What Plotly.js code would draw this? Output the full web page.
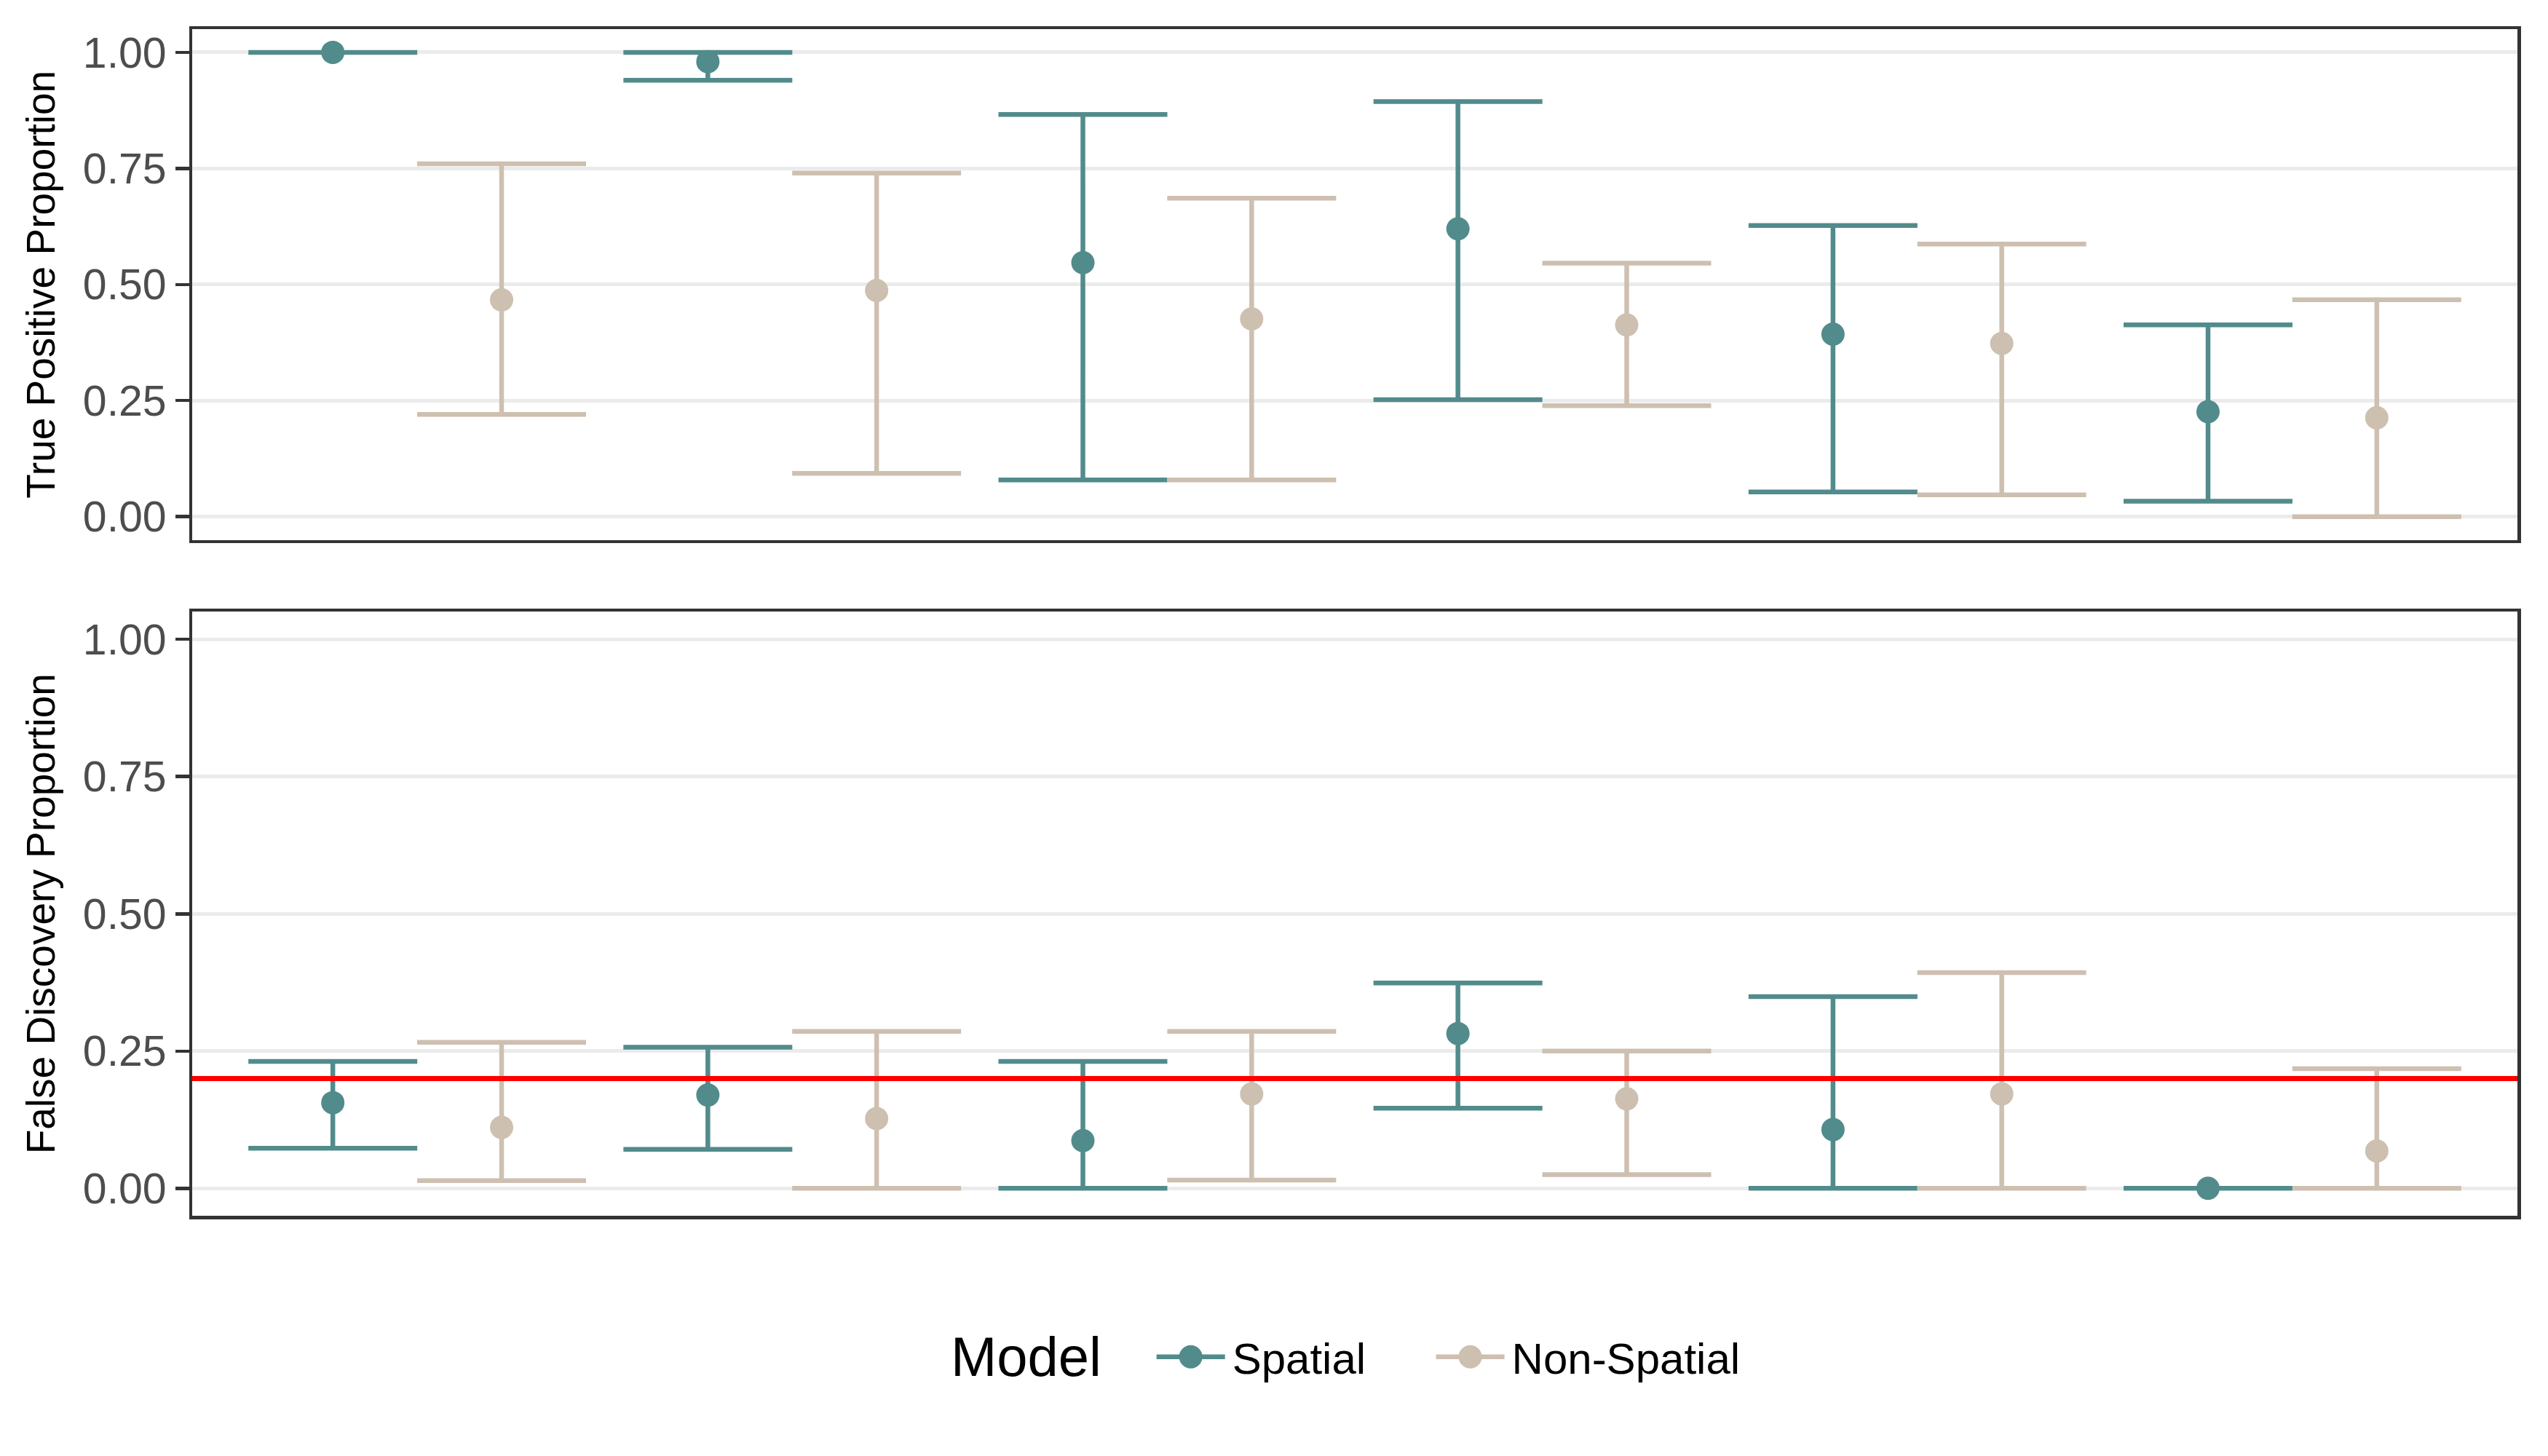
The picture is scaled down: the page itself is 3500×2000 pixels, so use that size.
<!DOCTYPE html>
<html><head><meta charset="utf-8">
<script src="https://cdn.plot.ly/plotly-3.0.1.min.js"></script>
<style>
html,body{margin:0;padding:0;background:#fff;overflow:hidden}
#wrap{width:3500px;height:2000px;position:relative;overflow:hidden}
#chart{width:1750px;height:1000px;transform:scale(2);transform-origin:0 0}
</style>
</head><body><div id="wrap"><div id="chart"></div></div>
<script>
// ---- data ----
const groups = [1, 2, 3, 4, 5, 6];
const models = ["Spatial", "Non-Spatial"];
const tpSpatialMean  = [1.000, 0.980, 0.547, 0.620, 0.393, 0.226];
const tpSpatialLower = [1.000, 0.940, 0.079, 0.252, 0.053, 0.033];
const tpSpatialUpper = [1.000, 1.000, 0.866, 0.894, 0.627, 0.413];
const tpNonMean  = [0.467, 0.487, 0.426, 0.413, 0.373, 0.213];
const tpNonLower = [0.220, 0.093, 0.079, 0.239, 0.047, 0.000];
const tpNonUpper = [0.760, 0.740, 0.686, 0.546, 0.587, 0.467];
const fdSpatialMean  = [0.156, 0.170, 0.087, 0.282, 0.107, 0.000];
const fdSpatialLower = [0.073, 0.071, 0.000, 0.146, 0.000, 0.000];
const fdSpatialUpper = [0.231, 0.257, 0.231, 0.374, 0.349, 0.000];
const fdNonMean  = [0.111, 0.127, 0.172, 0.163, 0.172, 0.068];
const fdNonLower = [0.014, 0.000, 0.015, 0.025, 0.000, 0.000];
const fdNonUpper = [0.266, 0.286, 0.286, 0.250, 0.393, 0.218];
const yTicks = [0, 0.25, 0.5, 0.75, 1];
const yTickLabels = ["0.00", "0.25", "0.50", "0.75", "1.00"];
const fdrTarget = 0.2;
const legendTitle = "Model";

// ---- styles (chart drawn at half size, then scaled 2x by CSS) ----
const K = 0.5;
const colors = {"Spatial": "#528B8B", "Non-Spatial": "#CDC0B0"};
const legendIds = {"Spatial": "legend", "Non-Spatial": "legend2"};
const dodge = 0.225;
const FONT = "Liberation Sans, Arial, Helvetica, sans-serif";

function series(model, mean, lower, upper, xa, ya) {
  const off = model === "Spatial" ? -dodge : dodge;
  return {
    type: "scatter", mode: "markers", name: model, showlegend: false,
    x: groups.map(g => g + off), y: mean,
    xaxis: xa, yaxis: ya,
    marker: {color: colors[model], size: 32 * K},
    error_y: {type: "data", symmetric: false,
      array: upper.map((u, i) => u - mean[i]),
      arrayminus: lower.map((l, i) => mean[i] - l),
      color: colors[model], thickness: 6.5 * K, width: 116 * K},
    hoverinfo: "skip"
  };
}
function legendTrace(model) {
  return {type: "scatter", mode: "lines+markers", name: model, x: [null], y: [null],
    xaxis: "x", yaxis: "y", showlegend: true, legend: legendIds[model],
    line: {color: colors[model], width: 6.5 * K},
    marker: {color: colors[model], size: 32 * K}};
}

const data = [
  series("Spatial", tpSpatialMean, tpSpatialLower, tpSpatialUpper, "x", "y"),
  series("Non-Spatial", tpNonMean, tpNonLower, tpNonUpper, "x", "y"),
  series("Spatial", fdSpatialMean, fdSpatialLower, fdSpatialUpper, "x2", "y2"),
  series("Non-Spatial", fdNonMean, fdNonLower, fdNonUpper, "x2", "y2"),
  legendTrace("Spatial"), legendTrace("Non-Spatial")
];

const yAxisBase = {
  range: [-0.05, 1.05], tickvals: yTicks, ticktext: yTickLabels,
  ticks: "outside", ticklen: 19 * K, tickwidth: 4.5 * K, tickcolor: "#333333",
  tickfont: {family: FONT, size: 59 * K, color: "#4D4D4D"},
  showgrid: true, gridcolor: "#EBEBEB", gridwidth: 5 * K, zeroline: false,
  showline: true, mirror: true, linecolor: "#333333", linewidth: 4.5 * K
};
const xAxisBase = {
  range: [0.4, 6.6], showticklabels: false, ticks: "", showgrid: false, zeroline: false,
  showline: true, mirror: true, linecolor: "#333333", linewidth: 4.5 * K
};
const titleFont = {family: FONT, size: 55 * K, color: "#000000"};
const legendBase = {orientation: "h", xanchor: "left", y: -0.1189, yanchor: "middle",
  font: {family: FONT, size: 60 * K, color: "#000000"}, valign: "middle",
  itemwidth: 47, bgcolor: "rgba(0,0,0,0)"};

const layout = {
  width: 3500 * K, height: 2000 * K,
  paper_bgcolor: "#FFFFFF", plot_bgcolor: "#FFFFFF",
  margin: {l: 264 * K, r: 41 * K, t: 39 * K, b: 330 * K},
  font: {family: FONT, color: "#000000"},
  xaxis: Object.assign({}, xAxisBase, {domain: [0, 1], anchor: "y"}),
  xaxis2: Object.assign({}, xAxisBase, {domain: [0, 1], anchor: "y2"}),
  yaxis: Object.assign({}, yAxisBase, {domain: [0.5696, 1], anchor: "x",
    title: {text: "True Positive Proportion", font: titleFont, standoff: 22 * K}}),
  yaxis2: Object.assign({}, yAxisBase, {domain: [0, 0.5089], anchor: "x2",
    title: {text: "False Discovery Proportion", font: titleFont, standoff: 22 * K}}),
  shapes: [{type: "line", xref: "x2 domain", yref: "y2", x0: 0, x1: 1, y0: fdrTarget, y1: fdrTarget,
    line: {color: "#FF0000", width: 7 * K}, layer: "above"}],
  annotations: [{text: legendTitle, xref: "paper", yref: "paper", x: 0.3925, y: -0.1189,
    xanchor: "right", yanchor: "middle", showarrow: false,
    font: {family: FONT, size: 76 * K, color: "#000000"}}],
  showlegend: true,
  legend: Object.assign({}, legendBase, {x: 0.4116}),
  legend2: Object.assign({}, legendBase, {x: 0.5318})
};

Plotly.newPlot("chart", data, layout, {staticPlot: true, displayModeBar: false});
</script></body></html>
